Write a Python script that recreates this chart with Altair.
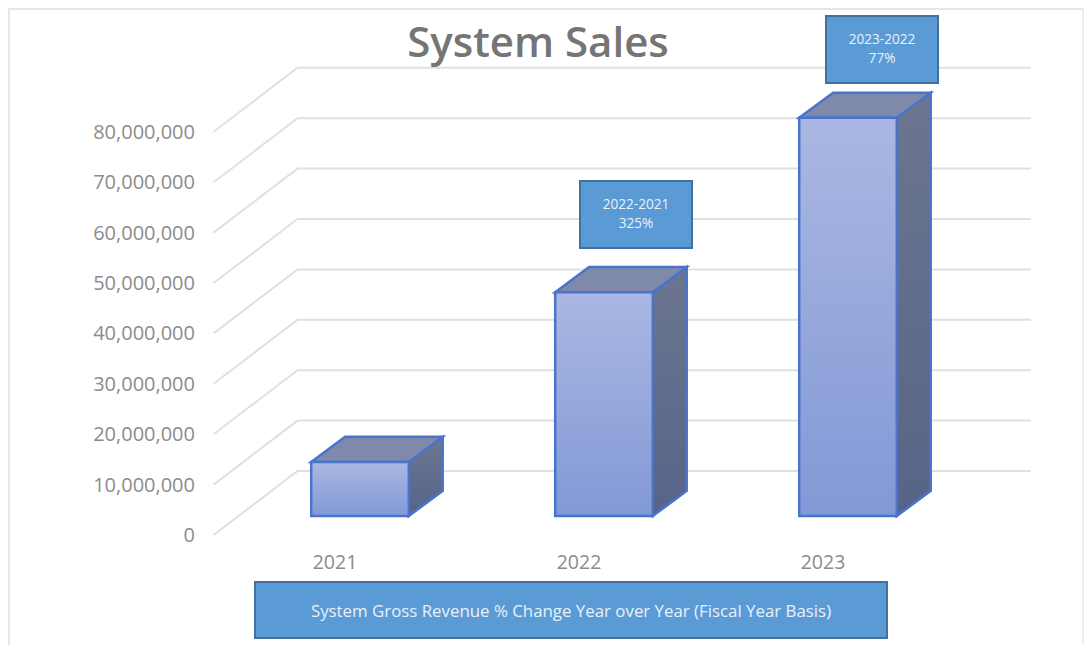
import altair as alt
import pandas as pd

W, H = 1076, 637
years = [2021, 2022, 2023]
sales = [10700000, 44400000, 79000000]
ticks = [0, 10000000, 20000000, 30000000, 40000000, 50000000, 60000000, 70000000, 80000000]
tick_labels = ["0", "10,000,000", "20,000,000", "30,000,000", "40,000,000",
               "50,000,000", "60,000,000", "70,000,000", "80,000,000"]
x_labels = ["2021", "2022", "2023"]
title_text = "System Sales"
callouts = ["2022-2021|325%", "2023-2022|77%"]
footer = "System Gross Revenue % Change Year over Year (Fiscal Year Basis)"

FONT = "Open Sans"
# scales: one year = 244 px, 10M = 50.4 px
xs = alt.Scale(domain=[2019.5574, 2023.9672], range=[0, W], nice=False, zero=False)
ys = alt.Scale(domain=[-25600000, 100800000], range=[H, 0], nice=False, zero=False)
X = lambda f: alt.X(f, type="quantitative", scale=xs, axis=None)
Y = lambda f: alt.Y(f, type="quantitative", scale=ys, axis=None)
X2 = lambda f: alt.X2(f)
Y2 = lambda f: alt.Y2(f)

half = 0.2
bar_dx, bar_dy = 0.139, 5000000
grid_left, grid_back, grid_right = 2020.4, 2020.744, 2023.75
grid_front_dy, grid_back_dy = -3770000, 8930000

grid_rows = []
for t in ticks:
    grid_rows += [
        {"t": t, "x": grid_left, "y": t + grid_front_dy},
        {"t": t, "x": grid_back, "y": t + grid_back_dy},
        {"t": t, "x": grid_right, "y": t + grid_back_dy},
    ]
grid = alt.Chart(pd.DataFrame(grid_rows)).mark_line(color="#e0e0e0", strokeWidth=2).encode(
    x=X("x"), y=Y("y"), detail="t:N", order="x:Q")

front_rows = [{"a": yr - half, "b": yr + half, "v": v} for yr, v in zip(years, sales)]
side_rows, top_rows = [], []
for yr, v in zip(years, sales):
    r = yr + half
    side_rows += [{"yr": yr, "x": r, "y0": 0, "y1": v},
                  {"yr": yr, "x": r + bar_dx, "y0": bar_dy, "y1": v + bar_dy}]
    top_rows += [{"yr": yr, "y": v, "x0": yr - half, "x1": r},
                 {"yr": yr, "y": v + bar_dy, "x0": yr - half + bar_dx, "x1": r + bar_dx}]

def grad(top, bottom):
    return alt.Gradient(gradient="linear", x1=0, y1=0, x2=0, y2=1,
                        stops=[alt.GradientStop(color=top, offset=0),
                               alt.GradientStop(color=bottom, offset=1)])

EDGE = "#4a74cc"
layers = [grid]

# faint frame of the pasted picture
frame = alt.Chart(pd.DataFrame({"k": [0]}))
layers.append(frame.mark_rule(color="#e6e6e6", strokeWidth=2).encode(
    x=alt.value(0), x2=alt.value(W), y=alt.value(1)))
layers.append(frame.mark_rule(color="#e6e6e6", strokeWidth=2).encode(
    x=alt.value(1), y=alt.value(0), y2=alt.value(H)))
layers.append(frame.mark_rule(color="#eeeeee", strokeWidth=2).encode(
    x=alt.value(W - 1), y=alt.value(0), y2=alt.value(H)))

for yr in years:
    s = pd.DataFrame([r for r in side_rows if r["yr"] == yr])
    t = pd.DataFrame([r for r in top_rows if r["yr"] == yr])
    f = pd.DataFrame([r for r, y in zip(front_rows, years) if y == yr])
    layers.append(alt.Chart(s).mark_area(orient="vertical", color=grad("#6c7690", "#566488"),
                                         stroke=EDGE, strokeWidth=2.5, interpolate="linear").encode(
        x=X("x"), y=Y("y1"), y2=Y2("y0")))
    layers.append(alt.Chart(t).mark_area(orient="horizontal", color="#7f89a9",
                                         stroke=EDGE, strokeWidth=2.5, interpolate="linear").encode(
        y=Y("y"), x=X("x0"), x2=X2("x1")))
    layers.append(alt.Chart(f).mark_rect(color=grad("#aab7e2", "#8299d6"),
                                         stroke=EDGE, strokeWidth=2.5).encode(
        x=X("a"), x2=X2("b"), y=Y("v"), y2=alt.Y2(datum=0)))

tick_df = pd.DataFrame({"v": [t + grid_front_dy for t in ticks], "label": tick_labels})
layers.append(alt.Chart(tick_df).mark_text(align="right", baseline="middle", font=FONT, fontSize=20,
                                           color="#8c8c8c", dy=1).encode(
    x=alt.value(187), y=Y("v"), text="label:N"))
xl_df = pd.DataFrame({"x": years, "label": x_labels})
layers.append(alt.Chart(xl_df).mark_text(baseline="middle", font=FONT, fontSize=19.5, color="#8c8c8c", dx=-25).encode(
    x=X("x"), y=alt.value(555), text="label:N"))

layers.append(alt.Chart(pd.DataFrame({"t": [title_text]})).mark_text(
    font=FONT, fontSize=42, fontWeight=600, color="#757575", baseline="alphabetic").encode(
    x=alt.value(530), y=alt.value(49), text="t:N"))

def box(x0, y0, x1, y1, lines, size, shift=0):
    base = alt.Chart(pd.DataFrame({"k": [0]}))
    out = [base.mark_rect(fill="#5b9bd5", stroke="#41719c", strokeWidth=2).encode(
        x=alt.value(x0 - 8), x2=alt.value(x1 - 8), y=alt.value(y0 - 8), y2=alt.value(y1 - 8))]
    mid = (y0 + y1) / 2 - 8 + shift
    step = size * 1.35
    for i, line in enumerate(lines):
        out.append(alt.Chart(pd.DataFrame({"t": [line]})).mark_text(
            font=FONT, fontSize=size, color="#e8f1fa", baseline="middle").encode(
            x=alt.value((x0 + x1) / 2 - 8),
            y=alt.value(mid + (i - (len(lines) - 1) / 2) * step), text="t:N"))
    return out

layers += box(580, 181, 692, 248, callouts[0].split("|"), 13.6)
layers += box(826, 16, 938, 83, callouts[1].split("|"), 13.6)
layers += box(255, 582, 887, 638, [footer], 16.85, shift=2)

chart = alt.layer(*layers).properties(
    width=W, height=H, padding=0, background="white",
    autosize=alt.AutoSizeParams(type="none")
).configure_view(stroke=None)

chart.save("out.html", embed_options={"renderer": "svg", "actions": False})
